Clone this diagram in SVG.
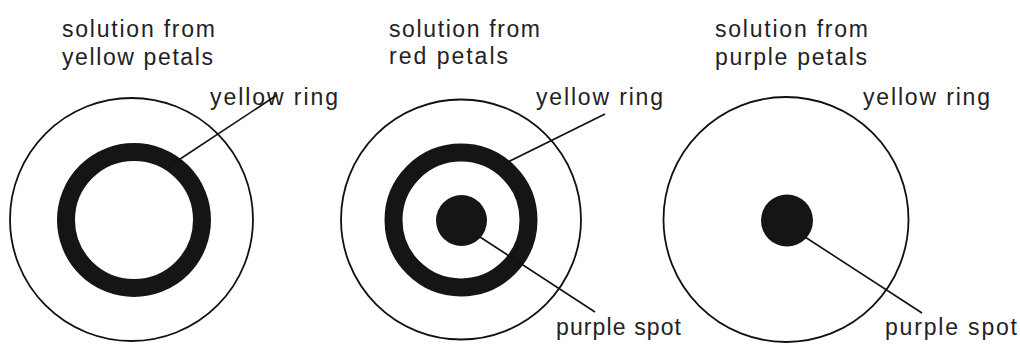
<svg xmlns="http://www.w3.org/2000/svg" width="1020" height="349" viewBox="0 0 1020 349">
<style>
.bg{fill:#ffffff}
.outer{fill:none;stroke:#111;stroke-width:1.8}
.ring{fill:none;stroke:#151515;stroke-width:18}
.spot{fill:#151515}
.lead{stroke:#111;stroke-width:1.6;fill:none}
text{font-family:"Liberation Sans",Arial,sans-serif;font-size:23px;fill:#222}
</style>
<rect class="bg" x="0" y="0" width="1020" height="349"/>
<g id="dish-yellow">
<circle class="outer" cx="131.5" cy="219.5" r="121.5"/>
<circle class="ring" cx="134" cy="220" r="68"/>
<text x="62" y="37" textLength="153" lengthAdjust="spacing">solution from</text>
<text x="62" y="65" textLength="151" lengthAdjust="spacing">yellow petals</text>
<text x="210" y="105" textLength="128" lengthAdjust="spacing">yellow ring</text>
</g>
<g id="dish-red">
<circle class="outer" cx="461" cy="219.5" r="120"/>
<circle class="ring" cx="461" cy="220" r="67.5"/>
<circle class="spot" cx="461.5" cy="220.5" r="25.5"/>
<text x="389" y="37" textLength="151" lengthAdjust="spacing">solution from</text>
<text x="389" y="64" textLength="119" lengthAdjust="spacing">red petals</text>
<text x="536" y="105" textLength="127" lengthAdjust="spacing">yellow ring</text>
<text x="556" y="335" textLength="125" lengthAdjust="spacing">purple spot</text>
</g>
<g id="dish-purple">
<circle class="outer" cx="786" cy="219.5" r="122.5"/>
<circle class="spot" cx="787" cy="220.5" r="26"/>
<text x="715" y="37" textLength="153" lengthAdjust="spacing">solution from</text>
<text x="715" y="65" textLength="152" lengthAdjust="spacing">purple petals</text>
<text x="863" y="105" textLength="127" lengthAdjust="spacing">yellow ring</text>
<text x="885" y="335" textLength="132" lengthAdjust="spacing">purple spot</text>
</g>
<g id="connectors">
<line class="lead" x1="277" y1="95" x2="168" y2="167"/>
<line class="lead" x1="605" y1="114" x2="508" y2="162"/>
<line class="lead" x1="480" y1="237" x2="595" y2="312"/>
<line class="lead" x1="805" y1="237" x2="922" y2="313"/>
</g>
</svg>
